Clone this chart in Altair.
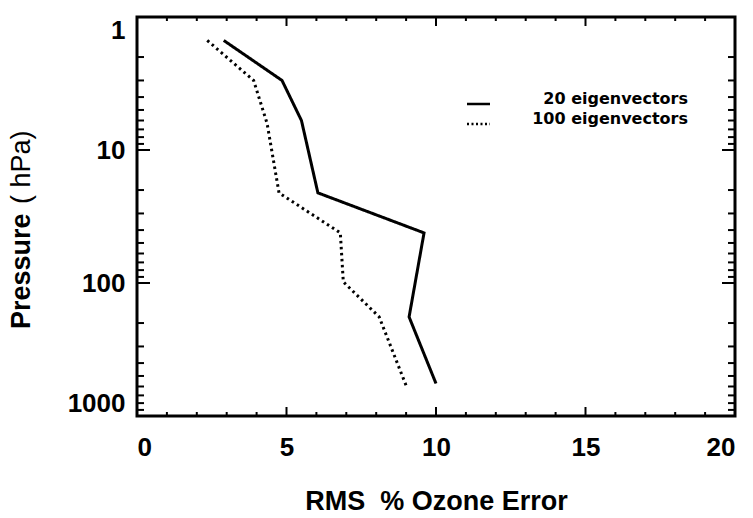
import altair as alt
import pandas as pd

# ---- data ----
series_names = ["20 eigenvectors", "100 eigenvectors"]
pressure_20 = [1.5, 3.0, 6.0, 21, 42, 180, 570]
error_20 = [2.9, 4.85, 5.5, 6.05, 9.6, 9.1, 10.0]
pressure_100 = [1.5, 3.0, 6.3, 21, 42, 98, 180, 590]
error_100 = [2.35, 3.9, 4.35, 4.75, 6.8, 6.9, 8.1, 9.0]
x_tick_labels = [0, 5, 10, 15, 20]
y_tick_labels = [1, 10, 100, 1000]
x_minor_ticks = [i for i in range(1, 20) if i % 5]
y_minor_ticks = [m * d for d in (1, 10, 100) for m in range(2, 10)]

W, H = 598, 399
FONT = "Liberation Sans"

lines = pd.concat([
    pd.DataFrame({"series": series_names[0], "p": pressure_20, "err": error_20}),
    pd.DataFrame({"series": series_names[1], "p": pressure_100, "err": error_100}),
])

xscale = alt.Scale(domain=[0, 20], nice=False, zero=False)
yscale = alt.Scale(type="log", domain=[1, 1000], reverse=True, nice=False)

x_axis = alt.Axis(values=x_tick_labels, domain=False, ticks=False, tickSize=0, grid=False,
                  labelFont=FONT, labelFontSize=26, labelFontWeight="bold", labelColor="black",
                  labelPadding=18, title="RMS\u00a0 % Ozone Error", titleFont=FONT,
                  titleFontSize=27, titleFontWeight="bold", titleColor="black", titlePadding=28)
y_axis = alt.Axis(values=y_tick_labels, format="d", domain=False, ticks=False, tickSize=0,
                  grid=False, labelFont=FONT, labelFontSize=26, labelFontWeight="bold",
                  labelColor="black", labelPadding=12, labelFlush=True, title=None)

data_lines = alt.Chart(lines).mark_line(color="black", strokeWidth=3).encode(
    x=alt.X("err:Q", scale=xscale, axis=x_axis),
    y=alt.Y("p:Q", scale=yscale, axis=y_axis),
    strokeDash=alt.StrokeDash("series:N", scale=alt.Scale(domain=series_names,
                              range=[[1, 0], [2.5, 3.5]]), legend=None),
    order=alt.Order("p:Q"),
)

def xticks(vals, length, top):
    df = pd.DataFrame({"v": vals})
    y0 = 0 if top else H
    y1 = length if top else H - length
    return alt.Chart(df).mark_rule(color="black", strokeWidth=2).encode(
        x=alt.X("v:Q", scale=xscale, axis=x_axis),
        y=alt.value(y0), y2=alt.value(y1))

def yticks(vals, length, right):
    df = pd.DataFrame({"v": vals})
    x0 = W if right else 0
    x1 = W - length if right else length
    return alt.Chart(df).mark_rule(color="black", strokeWidth=2).encode(
        y=alt.Y("v:Q", scale=yscale, axis=y_axis),
        x=alt.value(x0), x2=alt.value(x1))

ticks = [
    xticks(x_minor_ticks, 4, False), xticks(x_tick_labels, 9, False),
    xticks(x_minor_ticks, 4, True), xticks(x_tick_labels, 9, True),
    yticks(y_minor_ticks, 7, False), yticks(y_tick_labels, 13, False),
    yticks(y_minor_ticks, 7, True), yticks(y_tick_labels, 13, True),
]

one = pd.DataFrame({"k": [0]})

# legend (manual)
LEG_FONT = "DejaVu Sans"
leg_text_x = 551
leg_rows = [87, 107]
legend_layers = []
for i, name in enumerate(series_names):
    legend_layers.append(
        alt.Chart(one).mark_text(font=LEG_FONT, fontSize=16, fontWeight="bold", align="right",
                                 baseline="alphabetic", color="black").encode(
            x=alt.value(leg_text_x), y=alt.value(leg_rows[i]), text=alt.value(name)))
    legend_layers.append(
        alt.Chart(one).mark_rule(color="black", strokeWidth=2.5,
                                 strokeDash=[1, 0] if i == 0 else [2, 2.5]).encode(
            x=alt.value(330), x2=alt.value(353), y=alt.value(leg_rows[i])))

# y title: bold "Pressure" + regular "(hPa)"
ytitle = [
    alt.Chart(one).mark_text(font=FONT, fontSize=27, fontWeight="bold", angle=270,
                             align="left", baseline="middle", color="black").encode(
        x=alt.value(-115), y=alt.value(312), text=alt.value("Pressure")),
    alt.Chart(one).mark_text(font=FONT, fontSize=27, fontWeight="normal", angle=270,
                             align="left", baseline="middle", color="black").encode(
        x=alt.value(-115), y=alt.value(187), text=alt.value("( hPa)")),
]

chart = alt.layer(data_lines, *ticks, *legend_layers, *ytitle).properties(
    width=W, height=H,
    autosize=alt.AutoSizeParams(type="none"),
    padding={"left": 137, "top": 17, "right": 18, "bottom": 102},
    background="white",
).configure_view(stroke="black", strokeWidth=3)

chart.save("out.html", embed_options={"renderer": "svg", "actions": False})
